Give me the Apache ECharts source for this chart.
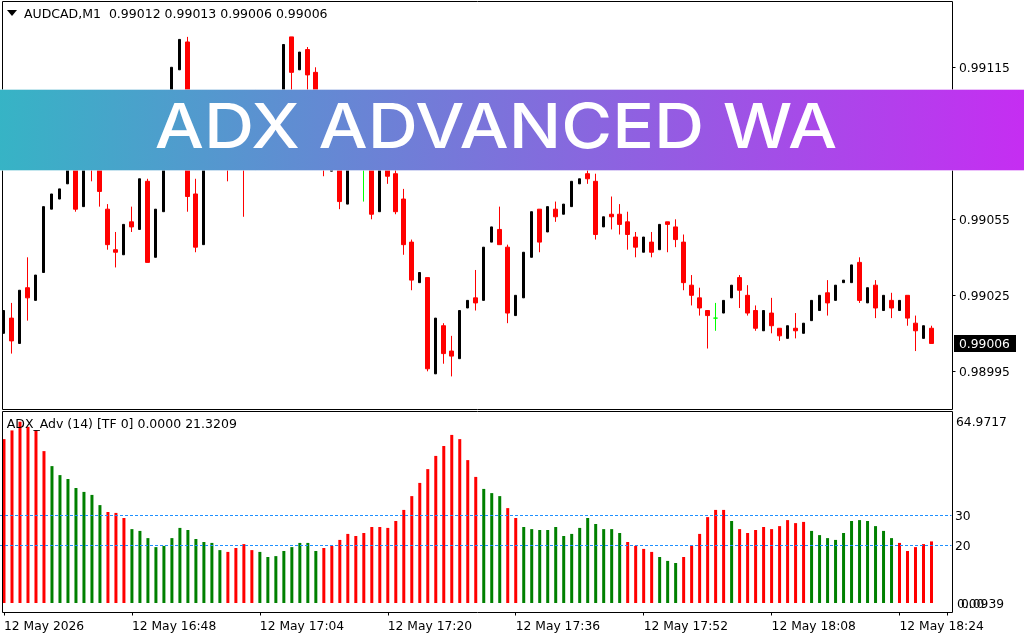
<!DOCTYPE html>
<html>
<head>
<meta charset="utf-8">
<title>ADX Advanced</title>
<script src="https://cdn.jsdelivr.net/npm/echarts@6/dist/echarts.min.js"></script>
<style>
html, body { margin: 0; padding: 0; background: #fff; }
#main { width: 1024px; height: 640px; }
</style>
</head>
<body>
<div id="main"></div>
<script>
// prices are in points (0.00001)
var opens = [99010,99016,99006,99028,99023,99034,99059,99063,99069,99085,
    99060,99090,99080,99059,99043,99041,99054,99051,99070,99040,
    99058,99088,99114,99125,99065,99045,99088,99080,99092,99075,
    99096,99085,99098,99088,99092,99100,99127,99114,99122,99113,
    99090,99074,99088,99061,99078,99080,99085,99058,99080,99073,
    99063,99046,99030,99032,98994,99013,99003,99000,99020,99024,
    99023,99046,99051,99044,99017,99024,99040,99059,99050,99059,
    99057,99060,99069,99073,99070,99052,99057,99057,99054,99048,
    99042,99046,99043,99054,99052,99046,99029,99024,99019,99016,
    99018,99024,99032,99025,99019,99011,99018,99012,99008,99012,
    99010,99015,99019,99026,99023,99030,99030,99038,99022,99029,
    99019,99023,99019,99025,99014,99008,99012];
var closes = [99019,99007,99027,99024,99033,99060,99065,99067,99078,99059,
    99084,99077,99066,99045,99042,99053,99052,99071,99038,99059,
    99088,99115,99126,99064,99044,99088,99080,99090,99080,99095,
    99085,99098,99090,99100,99104,99124,99113,99121,99112,99088,
    99078,99092,99062,99086,99090,99080,99057,99084,99072,99058,
    99045,99031,99034,98996,99016,99002,99001,99019,99023,99022,
    99044,99052,99045,99018,99025,99042,99058,99046,99060,99056,
    99061,99070,99071,99071,99049,99056,99056,99053,99049,99044,
    99048,99042,99053,99053,99047,99030,99025,99020,99017,99016,
    99023,99029,99027,99018,99012,99019,99013,99009,99013,99011,
    99014,99023,99025,99022,99029,99031,99037,99023,99028,99020,
    99025,99020,99023,99016,99011,99013,99006];
var highs = [99019,99022,99027,99040,99033,99060,99065,99067,99078,99086,
    99084,99092,99082,99061,99050,99053,99060,99071,99071,99059,
    99088,99115,99126,99127,99071,99088,99092,99090,99096,99095,
    99100,99098,99102,99100,99104,99124,99127,99121,99123,99115,
    99096,99092,99092,99086,99090,99090,99088,99084,99084,99075,
    99067,99047,99034,99032,99016,99014,99009,99019,99023,99035,
    99044,99052,99060,99045,99025,99042,99058,99059,99060,99062,
    99061,99070,99071,99075,99073,99056,99064,99061,99058,99050,
    99048,99050,99053,99054,99055,99049,99033,99028,99019,99022,
    99023,99029,99033,99029,99021,99019,99024,99012,99013,99018,
    99014,99023,99025,99031,99029,99031,99037,99040,99028,99031,
    99025,99026,99023,99025,99017,99013,99013];
var lows = [99010,99002,99006,99015,99023,99034,99059,99063,99069,99058,
    99060,99070,99060,99043,99036,99041,99050,99051,99038,99040,
    99058,99088,99114,99058,99042,99045,99076,99080,99070,99075,
    99056,99085,99078,99088,99092,99100,99100,99114,99092,99080,
    99072,99074,99059,99061,99078,99062,99055,99058,99069,99057,
    99041,99027,99030,98995,98994,98998,98993,99000,99020,99019,
    99023,99046,99045,99014,99017,99024,99040,99042,99050,99054,
    99057,99060,99069,99069,99047,99052,99051,99049,99043,99040,
    99042,99040,99043,99042,99044,99027,99021,99017,99004,99011,
    99018,99024,99020,99017,99011,99011,99010,99007,99008,99008,
    99010,99015,99019,99017,99023,99030,99030,99022,99022,99016,
    99019,99016,99019,99013,99003,99008,99006];

var adxValues = [55.4,58.3,61.2,59.5,58.3,51.4,46.4,43.4,42.1,39.1,
    37.8,36.8,33.4,31.1,30.8,29.1,25.4,24.8,22.4,19.4,
    19.8,22.4,25.8,25.1,22.1,21.1,20.8,18.4,17.8,19.1,
    20.4,18.4,17.8,16.1,16.4,18.1,19.4,20.8,20.8,18.1,
    19.1,19.8,21.8,23.8,23.1,24.1,26.1,26.1,25.8,28.1,
    31.8,36.4,40.8,45.4,49.8,53.1,56.8,55.4,48.4,42.8,
    38.8,37.4,36.4,32.4,29.1,26.1,25.4,25.1,25.1,26.1,
    23.1,23.8,25.8,29.1,27.1,25.4,25.4,24.1,21.1,19.8,
    18.8,17.8,16.1,14.8,14.1,16.1,19.8,23.8,29.4,31.8,
    31.8,28.1,25.4,24.1,25.1,26.1,25.4,26.4,28.4,27.4,
    27.8,24.8,23.4,22.4,21.8,24.1,28.1,28.4,28.1,26.4,
    24.8,22.4,20.8,18.1,19.4,20.4,21.3];
// bar colour runs: how many bars in a row, falling (r) or rising (g)
var adxRuns = [[6,'r'],[7,'g'],[3,'r'],[12,'g'],[4,'r'],[8,'g'],[20,'r'],[3,'g'],[2,'r'],[13,'g'],
    [4,'r'],[3,'g'],[6,'r'],[1,'g'],[9,'r'],[11,'g'],[5,'r']];

var timeLabels = ['12 May 2026','12 May 16:48','12 May 17:04','12 May 17:20','12 May 17:36','12 May 17:52','12 May 18:08','12 May 18:24'];
var priceTicks = [99115,99055,99025,98995];
var adxLevels = [30,20];
var currentPrice = 99006;

var FONT = 'DejaVu Sans';

// two empty slots after the last candle, as on the terminal
var categories = [];
for (var i = 0; i < opens.length + 2; i++) {
    categories.push(i % 16 === 0 ? timeLabels[i / 16] : '');
}

var upRows = [], downRows = [], dojiRows = [];
opens.forEach(function (o, i) {
    var row = [i, o, closes[i], lows[i], highs[i]];
    if (closes[i] > o) upRows.push(row);
    else if (closes[i] < o) downRows.push(row);
    else dojiRows.push(row);
});

function candleSeries(rows, width, color) {
    return {
        type: 'candlestick',
        xAxisIndex: 0,
        yAxisIndex: 0,
        barWidth: width,
        data: rows,
        encode: { x: 0, y: [1, 2, 3, 4] },
        itemStyle: { color: color, color0: color, borderColor: color, borderColor0: color, borderColorDoji: color, borderWidth: 1 }
    };
}

var adxSides = [];
adxRuns.forEach(function (run) {
    for (var k = 0; k < run[0]; k++) adxSides.push(run[1]);
});
var adxData = adxValues.map(function (v, i) {
    return { value: v, itemStyle: { color: adxSides[i] === 'r' ? '#ff0000' : '#008000' } };
});

function frame(id, y, h) {
    return { type: 'rect', id: id, z: 90, shape: { x: 2.5, y: y, width: 950, height: h }, style: { fill: 'none', stroke: '#000', lineWidth: 1 } };
}
function txt(id, x, y, s, color, size) {
    return { type: 'text', id: id, z: 120, x: x, y: y, style: { text: s, fill: color || '#000', font: (size || 12.3) + 'px "' + FONT + '"', textVerticalAlign: 'middle' } };
}

var chart = echarts.init(document.getElementById('main'));
chart.setOption({
    animation: false,
    backgroundColor: '#fff',
    grid: [
        { left: -0.5, top: 2, width: 952, height: 407 },
        { left: -0.5, top: 411, width: 952, height: 192 }
    ],
    xAxis: [
        { type: 'category', gridIndex: 0, data: categories, show: false },
        {
            type: 'category',
            gridIndex: 1,
            data: categories,
            offset: 9.5,
            axisLine: { show: false },
            axisTick: { show: true, interval: 15, alignWithLabel: true, length: 3, lineStyle: { color: '#000' } },
            axisLabel: { interval: 0, align: 'left', margin: 8, color: '#000', fontFamily: FONT, fontSize: 12.3, hideOverlap: false }
        }
    ],
    yAxis: [
        {
            type: 'value',
            gridIndex: 0,
            position: 'right',
            offset: 1,
            min: 98980.13,
            max: 99140.77,
            splitLine: { show: false },
            axisLine: { show: false },
            axisTick: { show: true, customValues: priceTicks, length: 3, lineStyle: { color: '#000' } },
            axisLabel: {
                customValues: priceTicks,
                margin: 6.5,
                verticalAlign: 'top',
                lineHeight: 3,
                color: '#000',
                fontFamily: FONT,
                fontSize: 12.3,
                formatter: function (v) { return (v / 100000).toFixed(5); }
            }
        },
        {
            type: 'value',
            gridIndex: 1,
            position: 'right',
            offset: 1,
            min: 0.77,
            max: 64.77,
            splitLine: { show: false },
            axisLine: { show: false },
            axisTick: { show: false },
            axisLabel: { customValues: adxLevels, margin: 2.5, verticalAlign: 'top', lineHeight: 2, color: '#000', fontFamily: FONT, fontSize: 12.3 }
        }
    ],
    series: [
        candleSeries(upRows, 2.5, '#000000'),
        candleSeries(downRows, 4.5, '#ff0000'),
        candleSeries(dojiRows, 4.5, '#00ff00'),
        {
            type: 'bar',
            xAxisIndex: 1,
            yAxisIndex: 1,
            barWidth: 3,
            data: adxData,
            markLine: {
                silent: true,
                symbol: 'none',
                label: { show: false },
                lineStyle: { type: [3, 2], color: '#1e90ff', width: 1 },
                data: adxLevels.map(function (v) { return { yAxis: v }; })
            }
        }
    ],
    graphic: [
        frame('f1', 1.5, 408),
        frame('f2', 411.5, 201),
        { type: 'polygon', id: 'tri', z: 120, shape: { points: [[7, 10], [17, 10], [12, 16]] }, style: { fill: '#000' } },
        txt('hdr', 24, 15, 'AUDCAD,M1  0.99012 0.99013 0.99006 0.99006', '#000', 12.5),
        txt('adxHdr', 6.7, 425, 'ADX_Adv (14) [TF 0] 0.0000 21.3209', '#000', 12.5),
        txt('adxMax', 956, 423, '64.9717'),
        txt('adxMin1', 957, 605, '0.00'),
        txt('adxMin2', 961, 605, '0.0939'),
        {
            type: 'rect',
            id: 'banner',
            z: 200,
            shape: { x: -2, y: 89.5, width: 1028, height: 81 },
            style: {
                fill: { type: 'linear', x: 0, y: 0.3, x2: 1, y2: 0.7, colorStops: [{ offset: 0, color: '#36b4c5' }, { offset: 1, color: '#c62df2' }] },
                stroke: 'rgba(255,255,255,0.4)',
                lineWidth: 1
            }
        },
        {
            type: 'text',
            id: 'bannerText',
            z: 210,
            x: 496,
            y: 129.5,
            scaleX: 1.12,
            style: { text: 'ADX ADVANCED WA', fill: '#fff', font: '500 62px Inter', textAlign: 'center', textVerticalAlign: 'middle' }
        }
    ]
});

// current price flag follows the price axis
var lastY = chart.convertToPixel({ yAxisIndex: 0 }, currentPrice);
chart.setOption({
    graphic: [
        { type: 'rect', id: 'curBox', z: 110, shape: { x: 954, y: lastY - 8.5, width: 62, height: 17 }, style: { fill: '#000' } },
        txt('curTxt', 959, lastY + 1, (currentPrice / 100000).toFixed(5), '#fff')
    ]
});
</script>
</body>
</html>
